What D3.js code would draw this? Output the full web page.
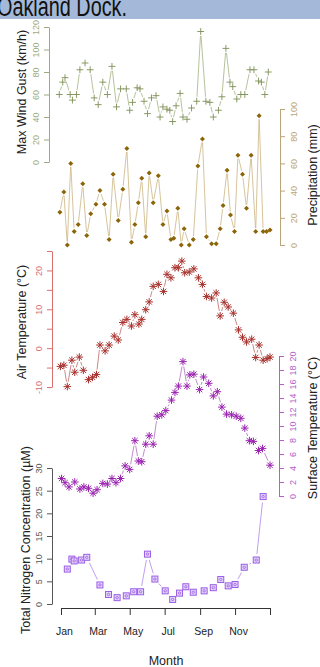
<!DOCTYPE html>
<html>
<head>
<meta charset="utf-8">
<script src="https://cdn.jsdelivr.net/npm/d3@7"></script>
<style>
  body { margin: 0; background: #fff; }
  svg { display: block; font-family: "Liberation Sans", Arial, sans-serif; }
</style>
</head>
<body>
<div id="chart"></div>
<script>
// day of year (0 = 1 Jan) for each sample
const year0 = new Date(2014, 0, 1);

const windDays = [-3, 3, 7, 16, 20, 27, 33, 42, 51, 58, 65, 73, 81, 89, 97, 104, 114, 120, 125, 133,
  138, 145, 151, 158, 166, 173, 178, 185, 190, 195, 201, 208, 213, 220, 228, 237, 244, 253, 260, 266,
  275, 281, 288, 295, 300, 307, 314, 321, 330, 337, 345, 350, 356, 362];
const windGust = [60, 71, 75, 60, 55, 60, 82, 88, 82, 57, 51, 71, 60, 85, 49, 65, 65, 46, 53, 66,
  65, 54, 43, 57, 59, 40, 49, 47, 46, 36, 50, 61, 40, 38, 48, 54, 116, 54, 53, 40,
  46, 58, 101, 71, 67, 56, 60, 60, 82, 82, 72, 71, 60, 80];

const precipDays = [-2, 5, 11, 17, 23, 30, 38, 45, 52, 61, 68, 76, 84, 91, 100, 108, 115, 123, 129, 135,
  141, 148, 154, 161, 170, 178, 185, 192, 197, 204, 210, 215, 224, 231, 239, 247, 254, 263, 271, 278,
  283, 290, 296, 303, 309, 317, 324, 332, 340, 346, 353, 359, 365];
const precip = [24, 39, 0, 60, 10, 15, 45, 7, 23, 30, 40, 30, 4, 52, 18, 41, 71, 2, 15, 31,
  49, 6, 53, 31, 51, 15, 25, 4, 5, 27, 0, 12, 0, 4, 58, 78, 6, 1, 1, 12,
  29, 55, 22, 10, 66, 52, 27, 66, 10, 95, 10, 10, 11];

const airDays = [-1, 5, 11, 19, 24, 32, 39, 48, 55, 62, 68, 77, 84, 93, 100, 108, 115, 123, 129, 136,
  141, 148, 154, 161, 170, 179, 185, 192, 199, 205, 211, 216, 224, 232, 240, 247, 254, 263, 271, 278,
  285, 292, 301, 310, 317, 324, 333, 340, 346, 353, 360, 365];
const airTemp = [-4.7, -4.4, -9.9, -3.1, -6.2, -2.3, -5.7, -8.1, -7.5, -6.8, 0.8, -0.7, 0.8, 3.1, 2.1, 6.6, 7.4, 5.7, 8.6, 6.2,
  7.4, 9.9, 11.9, 15.9, 16.4, 14.6, 19, 18.1, 20.7, 20.7, 22.4, 19.4, 19.6, 20.4, 18.1, 16.4, 13.3, 12.9, 14.2, 8.3,
  11.8, 10.6, 9, 4.7, 2.8, 1.6, 2.3, -2.4, 0.8, -3.1, -2.7, -2.3];

const surfDays = [1, 7, 14, 24, 33, 40, 48, 56, 63, 73, 81, 89, 96, 104, 112, 120, 129, 135, 141, 148,
  154, 161, 168, 176, 183, 193, 199, 205, 213, 220, 225, 232, 242, 249, 258, 266, 273, 281, 289, 298,
  306, 314, 321, 329, 336, 345, 352, 365];
const surfTemp = [2.5, 1.9, 1.3, 2, 1, 1.3, 1.1, 0.4, 0.9, 1.8, 1.7, 2.5, 1.9, 2.5, 4.3, 3.8, 7.9, 5, 4.9, 7.4,
  8.6, 7.4, 11.4, 11.6, 12.2, 13.7, 14.8, 15.7, 19.2, 15.7, 17.3, 17.4, 15.2, 17, 16.1, 14.3, 14.9, 12.7, 11.7, 11.6,
  11.4, 11.1, 9.7, 7.9, 7.8, 6.5, 6.8, 4.4];

const nitroDays = [11, 19, 23, 36, 45, 68, 83, 98, 114, 127, 139, 151, 164, 182, 195, 207, 218, 231, 250, 266,
  279, 292, 304, 320, 341, 353];
const nitrogen = [7.7, 9.9, 9.5, 9.7, 10.3, 4.2, 2.1, 1.4, 1.8, 2.7, 2.7, 11, 5.5, 2.9, 1, 2.4, 3.8, 2.6, 2.9, 3.6,
  5.4, 4, 4.3, 8.1, 9.7, 23.7];

// axis ticks
const monthLabels = ["Jan", "Mar", "May", "Jul", "Sep", "Nov", ""];
const windTicks = [0, 20, 40, 60, 80, 100, 120];
const precipTicks = [0, 20, 40, 60, 80, 100];
const airTicks = [-10, -5, 0, 5, 10, 15, 20, 25];
const airLabels = ["-10", "", "0", "", "10", "", "20", ""];
const surfTicks = [0, 2, 4, 6, 8, 10, 12, 14, 16, 18, 20];
const nitroTicks = [0, 5, 10, 15, 20, 25, 30];

const width = 320, height = 667;
const svg = d3.select('#chart').append('svg')
  .attr('width', width)
  .attr('height', height);

// title strip, cut off at the top as in the source
svg.append('rect').attr('x', 0).attr('y', 0).attr('width', width).attr('height', 19)
  .attr('fill', '#a4b9d9');
svg.append('text').attr('x', -3).attr('y', 16)
  .attr('font-size', 27).attr('fill', '#111')
  .attr('textLength', 130).attr('lengthAdjust', 'spacingAndGlyphs')
  .text('Oakland Dock.');

const x = d3.scaleTime().domain([year0, new Date(2015, 0, 1)]).range([61, 270]);
const toDate = d => d3.timeDay.offset(year0, d);

const yWind = d3.scaleLinear().domain([0, 120]).range([162, 27]);
const yPrecip = d3.scaleLinear().domain([0, 100]).range([245, 109]);
const yAir = d3.scaleLinear().domain([-10, 25]).range([387, 251]);
const ySurf = d3.scaleLinear().domain([0, 20]).range([496, 356]);
const yNitro = d3.scaleLinear().domain([0, 30]).range([604, 468]);

// y axis with R-style labels running up the axis
function yAxis(scale, ticks, labels, side, xPos, color, labelOff) {
  const ax = side === 'left' ? d3.axisLeft(scale) : d3.axisRight(scale);
  ax.tickValues(ticks).tickSize(5).tickSizeOuter(0)
    .tickFormat((d, i) => labels ? labels[i] : d);
  const g = svg.append('g')
    .attr('transform', `translate(${xPos},0)`)
    .call(ax);
  g.select('.domain').attr('stroke', color);
  g.selectAll('.tick line').attr('stroke', color);
  g.selectAll('.tick text')
    .attr('fill', color)
    .attr('font-size', 9)
    .attr('font-family', '"Liberation Sans", Arial, sans-serif')
    .attr('text-anchor', 'middle')
    .attr('x', 0).attr('dy', 0)
    .attr('y', labelOff)
    .attr('transform', 'rotate(-90)');
  return g;
}

function axisTitle(text, cx, cy) {
  svg.append('text')
    .attr('transform', `translate(${cx},${cy}) rotate(-90)`)
    .attr('text-anchor', 'middle')
    .attr('font-size', 12.5)
    .attr('fill', '#222')
    .text(text);
}

// line pieces between points, leaving a gap round each marker (R type = "b")
function gapped(pts, gap) {
  const segs = [];
  for (let i = 1; i < pts.length; i++) {
    const [x1, y1] = pts[i - 1], [x2, y2] = pts[i];
    const len = Math.hypot(x2 - x1, y2 - y1);
    if (len <= 2 * gap + 1) continue;
    const ux = (x2 - x1) / len, uy = (y2 - y1) / len;
    segs.push([x1 + ux * gap, y1 + uy * gap, x2 - ux * gap, y2 - uy * gap]);
  }
  return segs;
}

const plusPath = 'M-3.4,0H3.4M0,-3.4V3.4';
const starPath = 'M-3.8,0H3.8M0,-3.8V3.8M-2.7,-2.7L2.7,2.7M-2.7,2.7L2.7,-2.7';

function series(days, vals, y, opt) {
  const pts = days.map((d, i) => [x(toDate(d)), y(vals[i])]);
  const g = svg.append('g');
  g.selectAll('line').data(gapped(pts, opt.gap)).join('line')
    .attr('x1', d => d[0]).attr('y1', d => d[1])
    .attr('x2', d => d[2]).attr('y2', d => d[3])
    .attr('stroke', opt.line).attr('stroke-width', 0.8);
  const m = g.selectAll('g.pt').data(pts).join('g')
    .attr('class', 'pt')
    .attr('transform', d => `translate(${d[0]},${d[1]})`);
  if (opt.marker === 'plus') {
    m.append('path').attr('d', plusPath).attr('stroke', opt.color).attr('stroke-width', 0.9).attr('fill', 'none');
  } else if (opt.marker === 'star') {
    m.append('path').attr('d', starPath).attr('stroke', opt.color).attr('stroke-width', 1).attr('fill', 'none');
  } else if (opt.marker === 'dot') {
    m.append('path').attr('d', 'M0,-2.5L2.5,0L0,2.5L-2.5,0Z').attr('fill', opt.color);
  } else if (opt.marker === 'box') {
    m.append('rect').attr('x', -3).attr('y', -3).attr('width', 6).attr('height', 6)
      .attr('fill', '#e4d5fb').attr('stroke', opt.color).attr('stroke-width', 1);
    m.append('circle').attr('r', 1.2).attr('fill', 'none').attr('stroke', opt.color).attr('stroke-width', 0.8);
  }
}

// axes
yAxis(yWind, windTicks, null, 'left', 49, '#9aac80', -10.5);
yAxis(yPrecip, precipTicks, null, 'right', 280, '#b9a577', 16.5);
yAxis(yAir, airTicks, airLabels, 'left', 52, '#d97070', -10.5);
yAxis(ySurf, surfTicks, null, 'right', 279, '#b560c8', 16.5);
yAxis(yNitro, nitroTicks, null, 'left', 52, '#555555', -10.5);

axisTitle('Max Wind Gust (km/h)', 26, 92);
axisTitle('Precipitation (mm)', 317, 175);
axisTitle('Air Temperature (°C)', 26, 322);
axisTitle('Surface Temperature (°C)', 317, 428);
axisTitle('Total Nitrogen Concentration (µM)', 30, 540);

// x axis
const monthTicks = d3.timeMonth.every(2).range(year0, new Date(2015, 0, 2));
const xg = svg.append('g')
  .attr('transform', 'translate(0,608)')
  .call(d3.axisBottom(x).tickValues(monthTicks).tickSize(7).tickSizeOuter(0)
    .tickFormat((d, i) => monthLabels[i]));
xg.select('.domain').attr('stroke', '#333');
xg.selectAll('.tick line').attr('stroke', '#333');
xg.selectAll('.tick text')
  .attr('fill', '#222').attr('font-size', 10.5)
  .attr('font-family', '"Liberation Sans", Arial, sans-serif')
  .attr('y', 20).attr('dx', 3);

svg.append('text').attr('x', 166).attr('y', 665)
  .attr('text-anchor', 'middle').attr('font-size', 12.5).attr('fill', '#222')
  .text('Month');

// data
series(windDays, windGust, yWind, { marker: 'plus', color: '#7d8f55', line: '#a3b283', gap: 4.5 });
series(precipDays, precip, yPrecip, { marker: 'dot', color: '#8b6508', line: '#ccb582', gap: 3.5 });
series(airDays, airTemp, yAir, { marker: 'star', color: '#a8322d', line: '#c06a66', gap: 5 });
series(surfDays, surfTemp, ySurf, { marker: 'star', color: '#9a22b0', line: '#b070c2', gap: 5 });
series(nitroDays, nitrogen, yNitro, { marker: 'box', color: '#9b5de5', line: '#ae88ea', gap: 6 });
</script>
</body>
</html>
